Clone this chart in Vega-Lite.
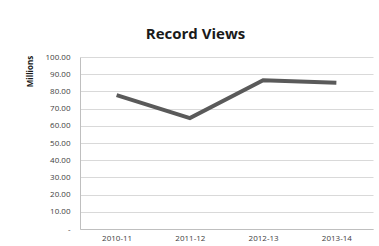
{
  "$schema": "https://vega.github.io/schema/vega-lite/v6.json",
  "width": 293,
  "height": 172,
  "autosize": {"type": "none"},
  "padding": {"left": 80, "top": 57, "right": 6, "bottom": 17},
  "background": "white",
  "title": {
    "text": "Record Views",
    "font": "Open Sans",
    "fontSize": 15,
    "fontWeight": "bold",
    "color": "#1a1a1a",
    "anchor": "middle",
    "dx": -31,
    "offset": 11
  },
  "data": {
    "values": [
      {"season": "2010-11", "views": 77.8},
      {"season": "2011-12", "views": 64.5},
      {"season": "2012-13", "views": 86.5},
      {"season": "2013-14", "views": 85.0}
    ]
  },
  "mark": {"type": "line", "color": "#5a5a5a", "strokeWidth": 4, "strokeCap": "butt", "strokeJoin": "miter"},
  "encoding": {
    "x": {
      "field": "season",
      "type": "ordinal",
      "scale": {"type": "point", "padding": 0.5},
      "axis": {
        "title": null,
        "labelAngle": 0,
        "ticks": false,
        "domainColor": "#bfbfbf",
        "labelColor": "#404040",
        "labelFont": "Open Sans",
        "labelFontSize": 8,
        "labelPadding": 5,
        "grid": false
      }
    },
    "y": {
      "field": "views",
      "type": "quantitative",
      "scale": {"domain": [0, 100], "nice": false},
      "axis": {
        "title": "Millions",
        "titleFont": "Open Sans",
        "titleFontSize": 8,
        "titleFontWeight": "bold",
        "titleColor": "#1a1a1a",
        "titleAngle": -90,
        "titleX": -50,
        "titleY": 14,
        "titleAlign": "center",
        "titleBaseline": "middle",
        "values": [0, 10, 20, 30, 40, 50, 60, 70, 80, 90, 100],
        "labelExpr": "datum.value == 0 ? '-\u00a0\u00a0\u00a0\u00a0' : format(datum.value, '.2f')",
        "labelFont": "Open Sans",
        "labelFontSize": 8,
        "labelColor": "#404040",
        "labelPadding": 10,
        "ticks": false,
        "domainColor": "#bfbfbf",
        "gridColor": "#d9d9d9",
        "gridWidth": 1
      }
    }
  },
  "config": {"view": {"stroke": null}}
}
